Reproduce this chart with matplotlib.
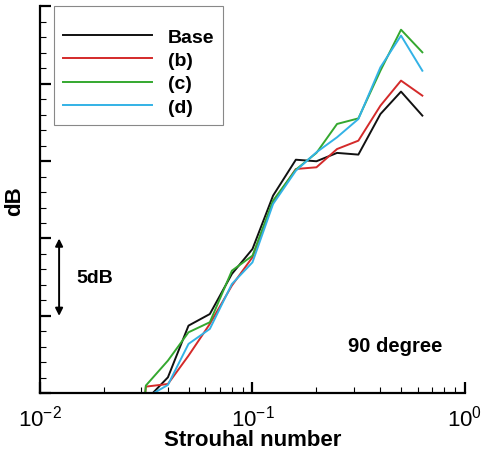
import matplotlib
matplotlib.use("Agg")
import matplotlib.pyplot as plt
from matplotlib.ticker import LogLocator, MultipleLocator, NullFormatter

plt.rcParams['font.family'] = ['Liberation Sans', 'DejaVu Sans']

# === data (1/3-octave bands, dB relative) ===
strouhal = [0.025, 0.0315, 0.04, 0.05, 0.063, 0.08, 0.1, 0.125, 0.16, 0.2, 0.25, 0.315, 0.4, 0.5, 0.63]
base_db = [-15, -0.45, 1.03, 4.37, 5.12, 7.71, 9.32, 12.77, 15.09, 14.99, 15.53, 15.42, 18.04, 19.49, 17.94]
b_db = [-15, 0.43, 0.60, 2.43, 4.48, 6.96, 8.79, 12.34, 14.49, 14.60, 15.78, 16.32, 18.58, 20.20, 19.23]
c_db = [-15, 0.50, 2.11, 3.94, 4.59, 7.92, 8.89, 12.45, 14.45, 15.53, 17.40, 17.76, 20.84, 23.49, 22.03]
d_db = [-15, -0.28, 0.54, 3.19, 4.16, 7.06, 8.46, 12.23, 14.38, 15.57, 16.54, 17.72, 21.06, 23.11, 20.84]

series_names = ["Base", "(b)", "(c)", "(d)"]
series_colors = ["#111111", "#d42a2a", "#34a82f", "#33b2e6"]

fig = plt.figure(figsize=(4.84, 4.52), dpi=100)
ax = fig.add_axes([0.0826, 0.1277, 0.8781, 0.8561])

for vals, name, col in zip([base_db, b_db, c_db, d_db], series_names, series_colors):
    ax.plot(strouhal, vals, color=col, lw=1.4, label=name)

ax.set_xscale('log')
ax.set_xlim(0.01, 1.0)
ax.set_ylim(0, 25)

# only left/bottom axis, ticks pointing inward
ax.spines['top'].set_visible(False)
ax.spines['right'].set_visible(False)
ax.spines['left'].set_linewidth(1.6)
ax.spines['bottom'].set_linewidth(1.6)

ax.xaxis.set_major_locator(LogLocator(base=10, numticks=5))
ax.xaxis.set_minor_locator(LogLocator(base=10, subs=range(2, 10), numticks=20))
ax.xaxis.set_minor_formatter(NullFormatter())
ax.yaxis.set_major_locator(MultipleLocator(5))
ax.yaxis.set_minor_locator(MultipleLocator(1))
ax.tick_params(axis='both', which='major', direction='in', length=8, width=1.6)
ax.tick_params(axis='both', which='minor', direction='in', length=4.5, width=0.8)
ax.tick_params(axis='x', which='major', labelsize=16, pad=8)
ax.tick_params(axis='y', labelleft=False)

ax.set_xlabel("Strouhal number", fontsize=16, fontweight='bold', labelpad=-1)
ax.set_ylabel("dB", fontsize=16, fontweight='bold', labelpad=7)

# 5 dB scale arrow
ax.annotate('', xy=(0.045, 10), xytext=(0.045, 5), xycoords=ax.get_yaxis_transform(),
            textcoords=ax.get_yaxis_transform(),
            arrowprops=dict(arrowstyle='<|-|>', color='black', lw=1.4,
                            mutation_scale=11, shrinkA=0, shrinkB=0))
ax.text(0.128, 7.5, "5dB", transform=ax.get_yaxis_transform(), fontsize=14,
        fontweight='bold', ha='center', va='center')
ax.text(0.835, 3.1, "90 degree", transform=ax.get_yaxis_transform(), fontsize=14.5,
        fontweight='bold', ha='center', va='center')

# blank title only to give the box its extra top padding
leg = ax.legend(loc='upper left', bbox_to_anchor=(0.033, 1.0), borderaxespad=0,
                fancybox=False, framealpha=1, edgecolor='#888888',
                handlelength=4.6, handletextpad=0.8, labelspacing=0.3,
                borderpad=0.45, title=' ', title_fontsize=5,
                prop={'weight': 'bold', 'size': 14})
leg.get_frame().set_linewidth(0.8)

fig.savefig("out.png", dpi=100)
